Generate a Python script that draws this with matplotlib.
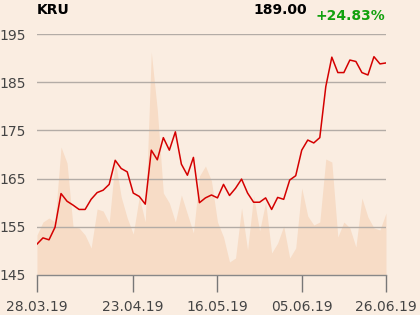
import matplotlib.pyplot as plt

# KRU daily close, 28.03.19 - 26.06.19 (trading days)
close = [151.4, 152.7, 152.3, 154.9, 161.9, 160.3, 159.5, 158.6, 158.6, 160.7,
         162.1, 162.6, 163.8, 168.8, 167.1, 166.4, 162.0, 161.3, 159.7, 170.9,
         168.9, 173.5, 170.9, 174.7, 168.0, 165.7, 169.4, 160.0, 161.0, 161.6,
         161.0, 163.8, 161.5, 163.0, 164.9, 162.0, 160.1, 160.1, 161.0, 158.6,
         161.1, 160.7, 164.7, 165.6, 170.9, 173.0, 172.4, 173.5, 184.1, 190.2,
         187.0, 187.0, 189.6, 189.3, 187.0, 186.5, 190.3, 188.8, 189.0]

# turnover (relative units)
volume = [40, 53, 57, 53, 128, 112, 48, 47, 40, 27,
          66, 64, 52, 115, 78, 57, 41, 78, 53, 223,
          165, 82, 72, 53, 80, 61, 42, 99, 109, 94,
          53, 38, 13, 17, 67, 25, 79, 44, 73, 22,
          32, 49, 17, 27, 87, 59, 50, 53, 116, 113,
          38, 53, 47, 28, 77, 58, 47, 45, 62]

tick_pos = [0, 16, 30, 44, 58]
tick_labels = ['28.03.19', '23.04.19', '16.05.19', '05.06.19', '26.06.19']
y_ticks = [145, 155, 165, 175, 185, 195]

bg = '#FAEDE1'
x = list(range(len(close)))

fig = plt.figure(figsize=(4.2, 3.15), dpi=100, facecolor=bg)
ax = fig.add_axes([0.088, 0.127, 0.831, 0.765])
ax.set_facecolor(bg)

# volume in the background
axv = ax.twinx()
axv.fill_between(x, 0, volume, color='#F7DCC6', linewidth=0)
axv.set_ylim(0, 241)
axv.axis('off')
ax.set_zorder(axv.get_zorder() + 1)
ax.patch.set_visible(False)
fig.patches.append(plt.Rectangle((0.088, 0.127), 0.831, 0.765,
                                 transform=fig.transFigure, color=bg, zorder=-10))

for yv in y_ticks[1:]:
    ax.axhline(yv, color='#B3ACA6', linewidth=1, zorder=1)
ax.plot(x, close, color='#D40000', linewidth=1.1, zorder=3)

ax.set_xlim(0, len(close) - 1)
ax.set_ylim(145, 195)
ax.set_yticks(y_ticks)
ax.set_xticks(tick_pos)
ax.set_xticklabels(tick_labels)
ax.tick_params(axis='y', length=0, pad=8, labelsize=10, labelcolor='#444444')
ax.tick_params(axis='x', length=12, width=1, color='#777777', pad=6,
               labelsize=10, labelcolor='#444444')
for s in ['top', 'right', 'left']:
    ax.spines[s].set_visible(False)
ax.spines['bottom'].set_color('#888888')
ax.spines['bottom'].set_linewidth(1)

fig.text(37 / 420, 1 - 10 / 315, 'KRU', fontsize=10, fontweight='bold',
         ha='left', va='center')
fig.text(307 / 420, 1 - 10 / 315, '189.00', fontsize=10, fontweight='bold',
         ha='right', va='center')
fig.text(385 / 420, 1 - 16.5 / 315, '+24.83%', fontsize=10, fontweight='bold',
         ha='right', va='center', color='#13A10E')

fig.savefig('out.png', dpi=100, facecolor=bg)
